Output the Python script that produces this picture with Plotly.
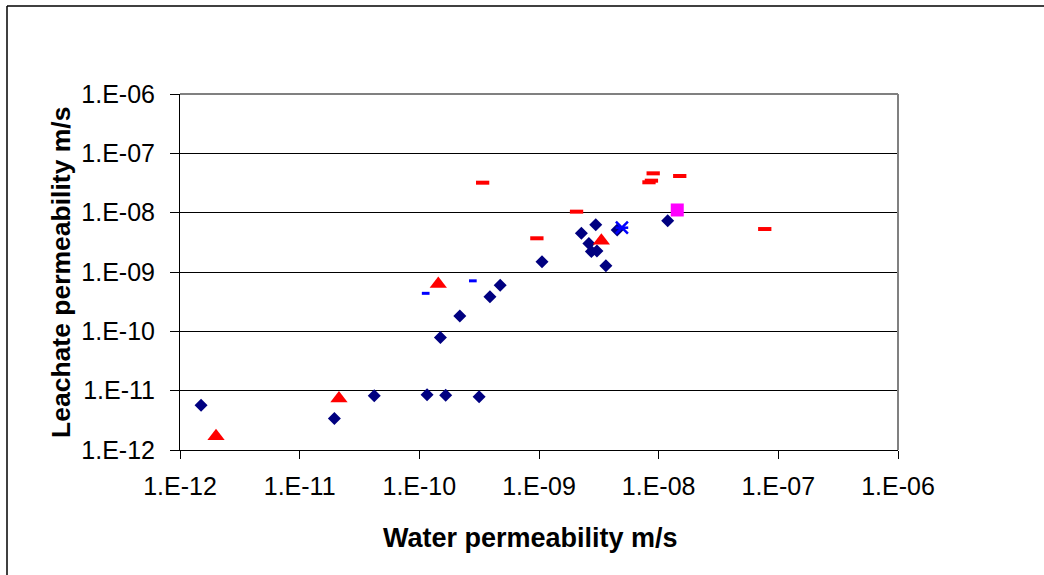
import plotly.graph_objects as go

# ---- data (water permeability, leachate permeability), m/s ----
diamond_water = [1.5e-12, 1.95e-11, 4.2e-11, 1.16e-10, 1.66e-10, 3.16e-10, 1.5e-10, 2.18e-10,
                 3.89e-10, 4.74e-10, 1.06e-9, 2.26e-9, 2.98e-9, 2.61e-9, 2.74e-9, 3.05e-9,
                 3.62e-9, 4.5e-9, 1.19e-8]
diamond_leach = [5.7e-12, 3.4e-12, 8.2e-12, 8.5e-12, 8.4e-12, 7.9e-12, 7.9e-11, 1.81e-10,
                 3.84e-10, 5.96e-10, 1.49e-9, 4.49e-9, 6.27e-9, 3.02e-9, 2.21e-9, 2.26e-9,
                 1.28e-9, 5.1e-9, 7.3e-9]

triangle_water = [2.0e-12, 2.13e-11, 1.44e-10, 3.32e-9]
triangle_leach = [1.7e-12, 7.4e-12, 6.25e-10, 3.37e-9]

red_dash_water = [3.38e-10, 2.06e-9, 9.6e-10, 9.0e-9, 8.7e-9, 8.3e-9, 1.5e-8, 7.7e-8]
red_dash_leach = [3.2e-8, 1.04e-8, 3.7e-9, 4.6e-8, 3.46e-8, 3.25e-8, 4.15e-8, 5.3e-9]

blue_dash_water = [1.13e-10, 2.8e-10]
blue_dash_leach = [4.37e-10, 7.1e-10]

square_water = [1.43e-8]
square_leach = [1.11e-8]

star_water = [4.93e-9]
star_leach = [5.58e-9]

tick_vals = [1e-12, 1e-11, 1e-10, 1e-9, 1e-8, 1e-7, 1e-6]
tick_text = ["1.E-12", "1.E-11", "1.E-10", "1.E-09", "1.E-08", "1.E-07", "1.E-06"]

x_title = "Water permeability m/s"
y_title = "Leachate permeability m/s"

FONT = "Arial, Liberation Sans, sans-serif"

fig = go.Figure()

fig.add_trace(go.Scatter(x=diamond_water, y=diamond_leach, mode="markers",
                         marker=dict(symbol="diamond", size=10, color="#000080",
                                     line=dict(width=0))))
fig.add_trace(go.Scatter(x=triangle_water, y=triangle_leach, mode="markers",
                         marker=dict(symbol="triangle-up", size=15, color="#FF0000",
                                     line=dict(width=0))))
fig.add_trace(go.Scatter(x=red_dash_water, y=red_dash_leach, mode="markers",
                         marker=dict(symbol="line-ew", size=9.5,
                                     line=dict(width=4, color="#FF0000"))))
fig.add_trace(go.Scatter(x=blue_dash_water, y=blue_dash_leach, mode="markers",
                         marker=dict(symbol="line-ew", size=5.5,
                                     line=dict(width=3, color="#0000FF"))))
fig.add_trace(go.Scatter(x=square_water, y=square_leach, mode="markers",
                         marker=dict(symbol="square", size=13, color="#FF00FF",
                                     line=dict(width=0))))
fig.add_trace(go.Scatter(x=star_water, y=star_leach, mode="markers",
                         marker=dict(symbol="x-thin-open", size=12, color="#0000FF",
                                     line=dict(width=2.5, color="#0000FF"))))
fig.add_trace(go.Scatter(x=star_water, y=star_leach, mode="markers",
                         marker=dict(symbol="line-ew-open", size=9, color="#0000FF",
                                     line=dict(width=2.5, color="#0000FF"))))

axis_common = dict(type="log", range=[-12, -6], tickvals=tick_vals, ticktext=tick_text,
                   showline=True, linecolor="#000000", linewidth=1,
                   ticks="outside", tickcolor="#000000", tickwidth=1,
                   tickfont=dict(family=FONT, size=25, color="#000000"),
                   zeroline=False)

fig.update_xaxes(**axis_common, showgrid=False, ticklen=8, ticklabelstandoff=6)
fig.update_yaxes(**axis_common, showgrid=True, gridcolor="#000000", gridwidth=1,
                 ticklen=9, ticklabelstandoff=10)

L, R, T, B = 180, 146, 94, 125
W, H = 1044, 575
pw, ph = W - L - R, H - T - B

def px(x):
    return (x - L) / pw

def py(y):
    return (H - B - y) / ph

shapes = [
    # plot-area top and right border (gray)
    dict(type="line", xref="paper", yref="paper", x0=0, x1=1, y0=1, y1=1,
         line=dict(color="#808080", width=2)),
    dict(type="line", xref="paper", yref="paper", x0=1, x1=1, y0=0, y1=1,
         line=dict(color="#808080", width=2)),
    # outer chart border (black)
    dict(type="line", xref="paper", yref="paper", x0=px(7), x1=px(1100), y0=py(6), y1=py(6),
         line=dict(color="#000000", width=1.5)),
    dict(type="line", xref="paper", yref="paper", x0=px(7), x1=px(7), y0=py(6), y1=py(620),
         line=dict(color="#000000", width=1.5)),
]

annotations = [
    dict(text=x_title, xref="paper", yref="paper", x=px(530), y=py(538),
         xanchor="center", yanchor="middle", showarrow=False,
         font=dict(family=FONT, size=27, color="#000000", weight="bold")),
    dict(text=y_title, xref="paper", yref="paper", x=px(61), y=py(273),
         xanchor="center", yanchor="middle", showarrow=False, textangle=-90,
         font=dict(family=FONT, size=26.5, color="#000000", weight="bold")),
]

fig.update_layout(width=W, height=H, margin=dict(l=L, r=R, t=T, b=B),
                  paper_bgcolor="#FFFFFF", plot_bgcolor="#FFFFFF",
                  showlegend=False, shapes=shapes, annotations=annotations)

fig.write_html("out.html")
